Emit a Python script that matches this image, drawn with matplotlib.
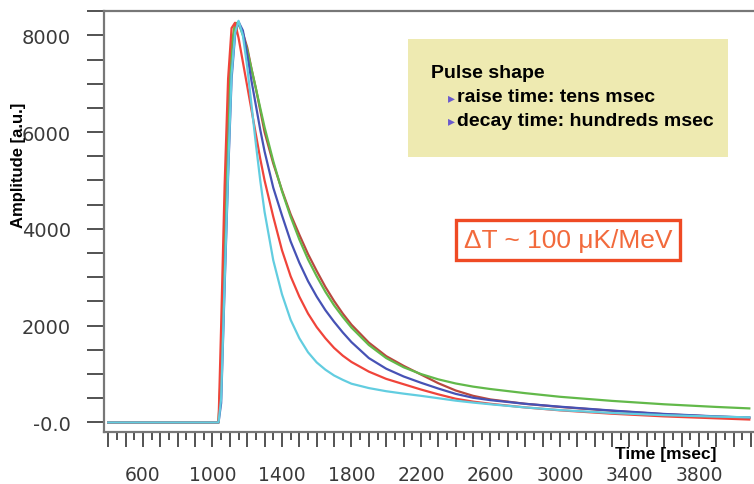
import matplotlib
matplotlib.use('Agg')
import matplotlib.pyplot as plt
from matplotlib.ticker import MultipleLocator, FuncFormatter
from matplotlib.patches import Rectangle

# pulse samples, time in msec, amplitude in a.u.
time_ms = [400, 1035, 1050, 1070, 1090, 1110, 1130, 1150, 1175, 1200,
           1225, 1250, 1275, 1300, 1350, 1400, 1450, 1500, 1550, 1600,
           1650, 1700, 1750, 1800, 1900, 2000, 2100, 2200, 2300, 2400,
           2500, 2600, 2800, 3000, 3300, 3600, 3900, 4090]

amp_brown = [0, 0, 1000, 3700, 6200, 7700, 8200, 8250, 8050, 7750,
             7300, 6900, 6450, 6000, 5350, 4800, 4300, 3880, 3480, 3130,
             2800, 2510, 2250, 2020, 1650, 1370, 1170, 990, 810, 660,
             550, 475, 385, 320, 240, 170, 120, 98]
amp_green = [0, 0, 1200, 3900, 6400, 7800, 8250, 8260, 8000, 7700,
             7300, 6900, 6500, 6100, 5400, 4780, 4250, 3780, 3370, 3020,
             2700, 2420, 2180, 1960, 1600, 1330, 1140, 1000, 890, 805,
             740, 690, 605, 530, 445, 375, 320, 290]
amp_blue = [0, 0, 400, 2800, 5100, 7100, 8000, 8280, 8100, 7600,
            7050, 6550, 6050, 5600, 4850, 4280, 3740, 3300, 2920, 2600,
            2320, 2080, 1860, 1660, 1330, 1110, 950, 820, 700, 590,
            510, 460, 385, 325, 245, 175, 125, 100]
amp_red = [0, 0, 2000, 4900, 7100, 8150, 8260, 7950, 7450, 6950,
           6450, 5950, 5450, 5000, 4250, 3560, 3020, 2600, 2250, 1970,
           1740, 1540, 1380, 1250, 1050, 900, 790, 680, 580, 490,
           430, 385, 310, 250, 180, 125, 85, 60]
amp_cyan = [0, 0, 500, 2900, 5200, 7200, 8050, 8300, 8000, 7350,
            6550, 5750, 5000, 4350, 3350, 2650, 2120, 1740, 1450, 1240,
            1090, 970, 880, 800, 710, 645, 595, 550, 500, 450,
            410, 375, 310, 255, 195, 150, 120, 105]

series = [
    (amp_brown, '#b9483f'),
    (amp_green, '#62b94a'),
    (amp_blue, '#4652b5'),
    (amp_red, '#f0443a'),
    (amp_cyan, '#62cde0'),
]

fig = plt.figure(figsize=(7.54, 4.85), dpi=100)
ax = fig.add_axes([0.138, 0.107, 0.862, 0.868])

for amp, col in series:
    ax.plot(time_ms, amp, color=col, lw=1.6, solid_joinstyle='round')

ax.set_xlim(376, 4117)
ax.set_ylim(-200, 8500)

for s in ['left', 'top', 'bottom']:
    ax.spines[s].set_color('#777777')
    ax.spines[s].set_linewidth(1.6)
ax.spines['right'].set_visible(False)

ax.yaxis.set_major_locator(MultipleLocator(2000))
ax.yaxis.set_minor_locator(MultipleLocator(500))
ax.yaxis.set_major_formatter(FuncFormatter(lambda v, p: '-0.0' if v == 0 else '%d' % v))
ax.tick_params(axis='y', which='both', direction='out', length=12, width=1.3,
               color='#444444', labelsize=14, labelcolor='#3a3a3a', pad=12)

ax.xaxis.set_major_locator(MultipleLocator(100))
ax.xaxis.set_minor_locator(MultipleLocator(50))
ax.xaxis.set_major_formatter(
    FuncFormatter(lambda v, p: '%d' % v if (v - 600) % 400 == 0 and v >= 600 else ''))
ax.tick_params(axis='x', which='major', direction='out', length=11, width=1.3,
               color='#444444', labelsize=13.5, labelcolor='#3a3a3a', pad=13)
ax.tick_params(axis='x', which='minor', direction='out', length=6, width=1.3,
               color='#444444')

fig.text(0.024, 0.658, 'Amplitude [a.u.]', rotation=90, ha='center', va='center',
         fontsize=12, fontweight='bold', family='Liberation Sans')
fig.text(0.883, 0.062, 'Time [msec]', ha='center', va='center',
         fontsize=12.5, fontweight='bold', family='Liberation Sans')

# info box
fig.patches.append(Rectangle((408 / 754, 1 - 158 / 485), 320 / 754, 118 / 485,
                             transform=fig.transFigure, facecolor='#eeeab1',
                             edgecolor='none', zorder=5))
fig.text(431 / 754, 1 - 73 / 485, 'Pulse shape', fontsize=14, fontweight='bold',
         family='Liberation Sans', va='center', zorder=6)
for i, line in enumerate(['raise time: tens msec', 'decay time: hundreds msec']):
    yy = 1 - (98 + 23 * i) / 485
    fig.text(448 / 754, yy, '\u25b8', fontsize=10, color='#6a5acd',
             family='DejaVu Sans', va='center', zorder=6)
    fig.text(457 / 754, yy, line, fontsize=14, fontweight='bold',
             family='Liberation Sans', va='center', zorder=6)

fig.text(568 / 754, 1 - 241 / 485, '\u0394T ~ 100 \u03bcK/MeV', fontsize=19,
         color='#f26a3c', family='Liberation Sans', ha='center', va='center',
         bbox=dict(boxstyle='square,pad=0.3', facecolor='white',
                   edgecolor='#ef4a24', linewidth=2.4))

fig.savefig('out.png', dpi=100)
